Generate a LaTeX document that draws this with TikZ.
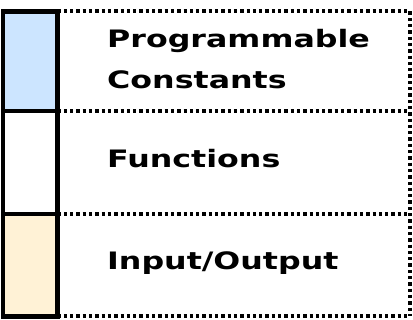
\documentclass[tikz,border=0pt]{standalone}
\usepackage{fontspec}
\setmainfont{DejaVu Sans}
\newfontfamily\legendfont[FakeStretch=1.32]{DejaVu Sans Bold}
\begin{document}
\begin{tikzpicture}[x=1pt,y=-1pt,
  swatch/.style={draw=black,line width=4.5pt},
  rowline/.style={draw=black,line width=4pt,line cap=butt,dash pattern=on 3.3pt off 3pt},
  legendtext/.style={anchor=base west,inner sep=0pt,font=\fontsize{24}{41}\legendfont,align=left}]
\definecolor{constblue}{HTML}{CCE5FF}
\definecolor{iobeige}{HTML}{FFF2D6}
\useasboundingbox (0,0) rectangle (413,320);
\fill[white] (0,0) rectangle (413,320);
% dotted row frames
\draw[rowline] (57.5,11.5) -- (410,11.5);
\draw[rowline] (57.5,111) -- (410,111);
\draw[rowline] (57.5,214) -- (410,214);
\draw[rowline] (57.5,316.5) -- (410,316.5);
\draw[rowline] (410,11.5) -- (410,316.5);
% colour swatches
\draw[swatch,fill=constblue] (2.8,11.5) rectangle (57.5,111);
\draw[swatch,fill=white] (2.8,111) rectangle (57.5,214);
\draw[swatch,fill=iobeige] (2.8,214) rectangle (57.5,316.5);
% labels
\node[legendtext] (pc) at (107,89) {Programmable\\Constants};
\node[legendtext] (fn) at (107,168) {Functions};
\node[legendtext] (io) at (107,270) {Input/Output};
\end{tikzpicture}
\end{document}
